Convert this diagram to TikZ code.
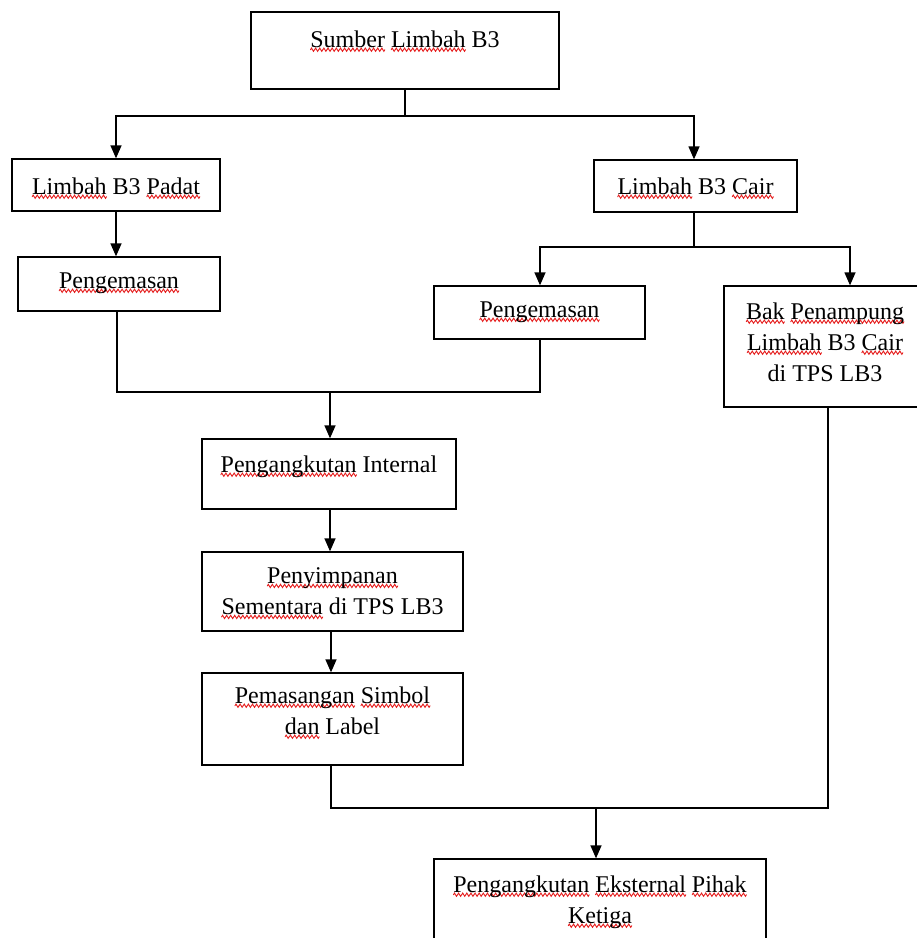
\documentclass[tikz,border=0pt]{standalone}
\usepackage{fontspec}
\setmainfont{Liberation Serif}
\usetikzlibrary{arrows.meta}

\definecolor{spellred}{RGB}{230,30,30}

% wavy red underline for flagged words, built from a repeated wave tile
\newsavebox\wavetile
\newbox\spellword
\newcommand\spell[1]{%
  \setbox\spellword\hbox{#1}%
  \leavevmode\rlap{\smash{\lower4.5pt\hbox to\wd\spellword{\xleaders\copy\wavetile\hfil}}}%
  \box\spellword}

\tikzset{
  box/.style={draw=black, line width=1.3pt, fill=white, inner sep=0pt},
  lbl/.style={align=center, inner sep=0pt, anchor=north,
              font=\fontsize{24}{31}\selectfont},
  arr/.style={line width=1.3pt, -{Triangle[width=11pt,length=13pt]}},
  ln/.style={line width=1.3pt}
}

\begin{document}
\sbox\wavetile{\begin{pgfpicture}%
  \pgfpathrectangle{\pgfpoint{0pt}{-2pt}}{\pgfpoint{4pt}{4pt}}%
  \pgfusepath{use as bounding box}%
  \pgfsetstrokecolor{spellred}%
  \pgfsetlinewidth{0.9pt}%
  \pgfsetroundcap
  \pgfpathmoveto{\pgfpoint{0pt}{0pt}}%
  \pgfpathcurveto{\pgfpoint{1pt}{2.2pt}}{\pgfpoint{1pt}{2.2pt}}{\pgfpoint{2pt}{0pt}}%
  \pgfpathcurveto{\pgfpoint{3pt}{-2.2pt}}{\pgfpoint{3pt}{-2.2pt}}{\pgfpoint{4pt}{0pt}}%
  \pgfusepath{stroke}%
\end{pgfpicture}}%
\begin{tikzpicture}[x=1pt, y=-1pt]
\useasboundingbox (0,0) rectangle (917,938);

% boxes
\node[box, minimum width=308pt, minimum height=77pt]  (src)    at (405,50.5)  {};
\node[box, minimum width=208pt, minimum height=52pt]  (padat)  at (116,185)   {};
\node[box, minimum width=202pt, minimum height=54pt]  (peng1)  at (119,284)   {};
\node[box, minimum width=203pt, minimum height=52pt]  (cair)   at (695.5,186) {};
\node[box, minimum width=211pt, minimum height=53pt]  (peng2)  at (539.5,312.5) {};
\node[box, minimum width=202pt, minimum height=121pt] (bak)    at (825,346.5) {};
\node[box, minimum width=254pt, minimum height=70pt]  (intern) at (329,474)   {};
\node[box, minimum width=261pt, minimum height=79pt]  (simpan) at (332.5,591.5) {};
\node[box, minimum width=261pt, minimum height=92pt]  (pasang) at (332.5,719) {};
\node[box, minimum width=332pt, minimum height=101pt] (ekst)   at (600,909.5) {};

% labels
\node[lbl] (srcT)    at ([yshift=-19pt]src.north)    {\spell{Sumber} \spell{Limbah} B3};
\node[lbl] (padatT)  at ([yshift=-19pt]padat.north)  {\spell{Limbah} B3 \spell{Padat}};
\node[lbl] (peng1T)  at ([yshift=-16pt]peng1.north)  {\spell{Pengemasan}};
\node[lbl] (cairT)   at ([yshift=-18pt]cair.north)   {\spell{Limbah} B3 \spell{Cair}};
\node[lbl] (peng2T)  at ([yshift=-16pt]peng2.north)  {\spell{Pengemasan}};
\node[lbl] (bakT)    at ([yshift=-17pt]bak.north)
  {\spell{Bak} \spell{Penampung}\\ \spell{Limbah} B3 \spell{Cair}\\ di TPS LB3};
\node[lbl] (internT) at ([yshift=-17pt]intern.north) {\spell{Pengangkutan} Internal};
\node[lbl] (simpanT) at ([yshift=-16pt]simpan.north)
  {\spell{Penyimpanan}\\ \spell{Sementara} di TPS LB3};
\node[lbl] (pasangT) at ([yshift=-14pt]pasang.north)
  {\spell{Pemasangan} \spell{Simbol}\\ \spell{dan} Label};
\node[lbl] (ekstT)   at ([yshift=-17pt]ekst.north)
  {\spell{Pengangkutan} \spell{Eksternal} \spell{Pihak}\\ \spell{Ketiga}};

% junction points
\coordinate (j1) at (405,116);
\coordinate (j2) at (694,247);
\coordinate (j3) at (330,392);
\coordinate (j4) at (596,808);

% connectors
\draw[ln] (src.south) -- (j1);
\draw[arr] (j1) -| (padat.north);
\draw[arr] (j1) -| ([xshift=-1.5pt]cair.north);
\draw[arr] (padat.south) -- (padat.south |- peng1.north);
\draw[ln] ([xshift=-1.5pt]cair.south) -- (j2);
\draw[arr] (j2) -| ([xshift=0.5pt]peng2.north);
\draw[arr] (j2) -| ([xshift=25pt]bak.north);
\draw[ln] ([xshift=-2pt]peng1.south) |- (j3);
\draw[ln] (j3) -| ([xshift=0.5pt]peng2.south);
\draw[arr] (j3) -- (j3 |- intern.north);
\draw[arr] ([xshift=1pt]intern.south) -- ([xshift=1pt]intern.south |- simpan.north);
\draw[arr] ([xshift=-1.5pt]simpan.south) -- ([xshift=-1.5pt]simpan.south |- pasang.north);
\draw[ln] ([xshift=-1.5pt]pasang.south) |- (j4);
\draw[ln] (j4) -| ([xshift=3pt]bak.south);
\draw[arr] (j4) -- (j4 |- ekst.north);
\end{tikzpicture}
\end{document}
